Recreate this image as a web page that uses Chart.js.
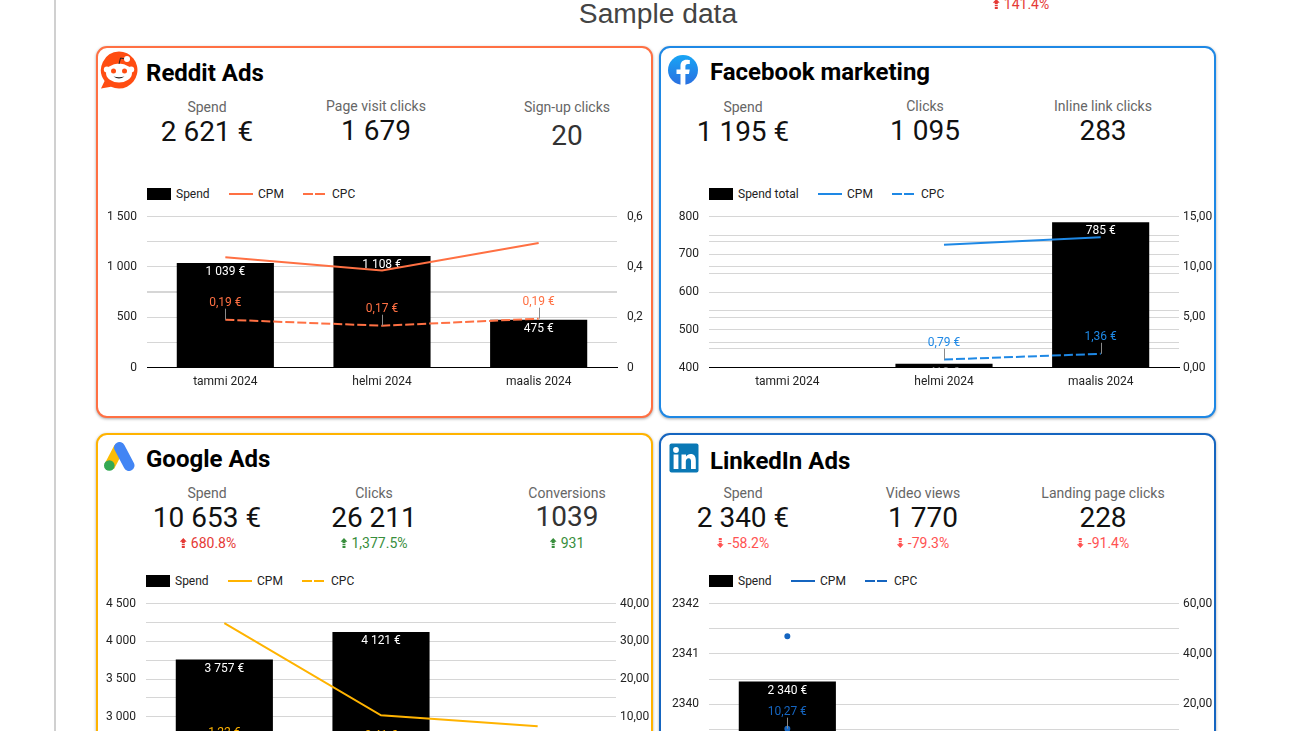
<!DOCTYPE html>
<html lang="fi">
<head>
<meta charset="utf-8">
<title>Sample data</title>
<script src="https://cdn.jsdelivr.net/npm/chart.js@4/dist/chart.umd.min.js"></script>
<style>
html,body{margin:0;padding:0;width:1300px;height:731px;overflow:hidden;background:#fff;font-family:Roboto,sans-serif;}
#stage{position:relative;width:1300px;height:731px;overflow:hidden;}
.abs{position:absolute;}
.rail{left:54px;top:0;width:2px;height:731px;background:#d0d0d0;}
.main-title{left:458px;width:400px;top:-3px;text-align:center;font:28.2px/32px "Liberation Sans",Arial,sans-serif;color:#444;}
.frame{box-sizing:border-box;border:2px solid;border-radius:11px;background:#fff;box-shadow:0 1px 3px rgba(0,0,0,.35);}
.ctitle{font:700 24px/28px Roboto,sans-serif;color:#000;white-space:nowrap;}
.kl,.kv,.kd{transform:translate(-50%,-50%);white-space:nowrap;text-align:center;}
.kl{font:14px/16px Roboto,sans-serif;color:#666;}
.kv{font:28px/32px Roboto,sans-serif;color:#111;}
.kd{font:14px/16px Roboto,sans-serif;display:flex;align-items:center;gap:4px;}
.kd svg{display:block;}
.lg{font:12px/14px Roboto,sans-serif;color:#222;white-space:nowrap;transform:translateY(-50%);}
.sw{background:#000;width:24px;height:12px;}
.ln{height:2px;}
canvas{position:absolute;display:block;}
</style>
</head>
<body>
<div id="stage">
  <div class="abs rail"></div>
  <div class="abs main-title">Sample data</div>
  <div class="abs kd" style="left:1021px;top:4px;color:#e53935;transform:translate(-50%,-50%)" data-arrow="up">141.4%</div>

  <div class="abs frame" style="left:96px;top:46px;width:557px;height:372px;border-color:#ff7043"></div>
  <div class="abs frame" style="left:659px;top:46px;width:557px;height:372px;border-color:#1e88e5"></div>
  <div class="abs frame" style="left:96px;top:433px;width:557px;height:372px;border-color:#ffb300"></div>
  <div class="abs frame" style="left:659px;top:433px;width:557px;height:372px;border-color:#1565c0"></div>

  <svg class="abs" style="left:100px;top:51px" width="38" height="38" viewBox="0 0 38 38">
    <path d="M19 0.5a18.5 18.5 0 1 1 -8 35.2L1 37.5 l3.6-7.5A18.5 18.5 0 0 1 19 .5z" fill="#ff4d12"/>
    <ellipse cx="19" cy="22" rx="13" ry="9.5" fill="#fff"/>
    <circle cx="6.8" cy="18.5" r="3" fill="#fff"/><circle cx="31.2" cy="18.5" r="3" fill="#fff"/>
    <circle cx="13.5" cy="20" r="2.5" fill="#ff4d12"/><circle cx="24.5" cy="20" r="2.5" fill="#ff4d12"/>
    <path d="M13.5 25.5q5.500 4 11 0q-5.500 1.500-11 0z" fill="#222"/>
    <path d="M19 13l1.500-6 5 1" stroke="#222" stroke-width="1" fill="none"/>
    <circle cx="27" cy="8" r="3" fill="#fff"/>
  </svg>
  <svg class="abs" style="left:668px;top:55px" width="30" height="30" viewBox="0 0 30 30">
    <defs><linearGradient id="fb" x1="0" y1="0" x2="0" y2="1"><stop offset="0" stop-color="#18a5f5"/><stop offset="1" stop-color="#2a6fe0"/></linearGradient></defs>
    <circle cx="15" cy="15" r="15" fill="url(#fb)"/>
    <path d="M12.500 30V19H8.500v-4.500h4V11c0-4 2.400-6.200 6-6.200 1.700 0 3.300.3 3.300.3v3.900h-1.900c-1.900 0-2.500 1.200-2.500 2.400v3.100h4.300l-.7 4.500h-3.600v11z" fill="#fff"/>
  </svg>
  <svg class="abs" style="left:104px;top:442px" width="31" height="29" viewBox="0 0 31 29">
    <path d="M10.500 3L20 8 10 27 .5 22z" fill="#fbbc04"/>
    <line x1="15.500" y1="5.500" x2="25" y2="23.500" stroke="#4285f4" stroke-width="11" stroke-linecap="round"/>
    <circle cx="5.300" cy="23.500" r="5.300" fill="#34a853"/>
  </svg>
  <svg class="abs" style="left:669px;top:443px" width="30" height="30" viewBox="0 0 30 30">
    <rect x="0.500" y="0.500" width="29" height="29" rx="2" fill="#0a78b5"/>
    <circle cx="7" cy="7" r="2.900" fill="#fff"/>
    <rect x="4.600" y="11.500" width="4.800" height="14.500" fill="#fff"/>
    <path d="M12.500 11.500h4.500v2c1-1.500 2.700-2.400 4.500-2.400 4 0 5.300 2.600 5.300 6.400V26h-4.800v-7.500c0-2-.5-3.300-2.300-3.300s-2.900 1.300-2.900 3.300V26h-4.300z" fill="#fff"/>
  </svg>

  <div class="abs ctitle" style="left:146px;top:59px">Reddit Ads</div>
  <div class="abs ctitle" style="left:710px;top:58px">Facebook marketing</div>
  <div class="abs ctitle" style="left:146px;top:445px">Google Ads</div>
  <div class="abs ctitle" style="left:710px;top:447px">LinkedIn Ads</div>

  <!-- KPI tiles -->
  <div class="abs kl" style="left:207px;top:107px">Spend</div><div class="abs kv" style="left:207px;top:132px">2 621 €</div>
  <div class="abs kl" style="left:376px;top:106px">Page visit clicks</div><div class="abs kv" style="left:376px;top:131px">1 679</div>
  <div class="abs kl" style="left:567px;top:107px">Sign-up clicks</div><div class="abs kv" style="left:567px;top:136px;color:#333">20</div>

  <div class="abs kl" style="left:743px;top:107px">Spend</div><div class="abs kv" style="left:743px;top:132px">1 195 €</div>
  <div class="abs kl" style="left:925px;top:106px">Clicks</div><div class="abs kv" style="left:925px;top:131px">1 095</div>
  <div class="abs kl" style="left:1103px;top:106px">Inline link clicks</div><div class="abs kv" style="left:1103px;top:131px">283</div>

  <div class="abs kl" style="left:207px;top:493px">Spend</div><div class="abs kv" style="left:207px;top:518px">10 653 €</div>
  <div class="abs kd" style="left:208px;top:543px;color:#e53935" data-arrow="up">680.8%</div>
  <div class="abs kl" style="left:374px;top:493px">Clicks</div><div class="abs kv" style="left:374px;top:518px">26 211</div>
  <div class="abs kd" style="left:374px;top:543px;color:#388e3c" data-arrow="up">1,377.5%</div>
  <div class="abs kl" style="left:567px;top:493px">Conversions</div><div class="abs kv" style="left:567px;top:517px;color:#333">1039</div>
  <div class="abs kd" style="left:567px;top:543px;color:#388e3c" data-arrow="up">931</div>

  <div class="abs kl" style="left:743px;top:493px">Spend</div><div class="abs kv" style="left:743px;top:518px">2 340 €</div>
  <div class="abs kd" style="left:743px;top:543px;color:#ff5252" data-arrow="down">-58.2%</div>
  <div class="abs kl" style="left:923px;top:493px">Video views</div><div class="abs kv" style="left:923px;top:518px">1 770</div>
  <div class="abs kd" style="left:923px;top:543px;color:#ff5252" data-arrow="down">-79.3%</div>
  <div class="abs kl" style="left:1103px;top:493px">Landing page clicks</div><div class="abs kv" style="left:1103px;top:518px">228</div>
  <div class="abs kd" style="left:1103px;top:543px;color:#ff5252" data-arrow="down">-91.4%</div>

  <!-- Legends -->
  <div id="legends"></div>

  <canvas id="cReddit"></canvas>
  <canvas id="cFacebook"></canvas>
  <canvas id="cGoogle"></canvas>
  <canvas id="cLinkedIn"></canvas>
</div>

<script>
// ---- data ----
const months = ['tammi 2024', 'helmi 2024', 'maalis 2024'];

const redditSpend = [1039, 1108, 475];
const redditCpm   = [0.438, 0.385, 0.495];
const redditCpc   = [0.19, 0.166, 0.194];

const facebookSpend = [null, 410, 785];
const facebookCpm   = [null, 12.2, 12.95];
const facebookCpc   = [null, 0.79, 1.36];

const googleSpend = [3757, 4121, 2775];
const googleCpm   = [34.8, 10.4, 7.5];
const googleCpc   = [1.22, 0.41, 0.05];

const linkedinSpend = [2340.45, null, null];
const linkedinCpm   = [47, null, null];
const linkedinCpc   = [10.27, null, null];

const redditLeftTicks    = {min: 0, max: 1500, step: 250, every: 500};
const redditRightTicks   = {min: 0, max: 0.6, step: 0.1, every: 0.2, digits: 1, zero: '0', pad: 10};
const facebookLeftTicks  = {min: 400, max: 800, step: 50, every: 100};
const facebookRightTicks = {min: 0, max: 15, step: 2.5, every: 5, digits: 2, pad: 4};
const googleLeftTicks    = {min: 2500, max: 4500, step: 250, every: 500};
const googleRightTicks   = {min: 0, max: 40, step: 5, every: 10, digits: 2, pad: 4};
const linkedinLeftTicks  = {min: 2339, max: 2342, step: 0.5, every: 1, plain: true};
const linkedinRightTicks = {min: 0, max: 60, step: 10, every: 20, digits: 2, pad: 4};

const ORANGE = '#ff7043', BLUE = '#1e88e5', AMBER = '#ffb300', NAVY = '#1565c0';

// ---- helpers ----
const group = n => String(Math.round(n)).replace(/\B(?=(\d{3})+$)/g, ' ');
const euro0 = n => group(n) + ' €';
const euro2 = n => n.toFixed(2).replace('.', ',') + ' €';

function tickFormatter(t) {
  return function (v) {
    const aligned = Math.abs(v / t.every - Math.round(v / t.every)) < 1e-6;
    if (!aligned) return '';
    if (t.digits) {
      if (Math.abs(v) < 1e-9 && t.zero) return t.zero;
      return v.toFixed(t.digits).replace('.', ',');
    }
    return t.plain ? String(Math.round(v)) : group(v);
  };
}

const labelsPlugin = {
  id: 'valueLabels',
  afterDatasetDraw(chart, args) {
    if (chart.data.datasets[args.index].type !== 'bar') return;
    const ctx = chart.ctx, area = chart.chartArea, ds = chart.data.datasets[args.index];
    ctx.save();
    ctx.beginPath();
    ctx.rect(area.left, area.top, area.right - area.left, area.bottom - area.top);
    ctx.clip();
    ctx.font = '12px Roboto, sans-serif';
    ctx.textAlign = 'center';
    ctx.textBaseline = 'middle';
    ctx.fillStyle = '#fff';
    args.meta.data.forEach((el, i) => {
      if (ds.data[i] == null) return;
      ctx.fillText(euro0(ds.data[i]), el.x, el.y + 9);
    });
    ctx.restore();
  },
  afterDatasetsDraw(chart) {
    const idx = chart.data.datasets.findIndex(d => d.label === 'CPC');
    const meta = chart.getDatasetMeta(idx), ds = chart.data.datasets[idx];
    const ctx = chart.ctx;
    ctx.save();
    ctx.font = '12px Roboto, sans-serif';
    ctx.textAlign = 'center';
    ctx.textBaseline = 'middle';
    meta.data.forEach((pt, i) => {
      if (ds.data[i] == null) return;
      ctx.strokeStyle = '#8a8a8a';
      ctx.lineWidth = 1;
      ctx.beginPath();
      ctx.moveTo(Math.round(pt.x) + .5, pt.y - 11);
      ctx.lineTo(Math.round(pt.x) + .5, pt.y);
      ctx.stroke();
      ctx.fillStyle = ds.borderColor;
      ctx.fillText(euro2(ds.data[i]), pt.x, pt.y - 17);
    });
    ctx.restore();
  }
};

function axis(t, position) {
  return {
    position, min: t.min, max: t.max,
    afterFit: s => { s.width = 45; s.paddingTop = 0; s.paddingBottom = 0; },
    afterBuildTicks: s => {
      const out = [];
      const n = Math.round((t.max - t.min) / t.step);
      for (let i = 0; i <= n; i++) out.push({value: t.min + i * t.step});
      s.ticks = out;
    },
    border: {display: false},
    grid: {color: '#d6d6d6', lineWidth: 1, drawTicks: false, drawOnChartArea: true},
    ticks: {
      autoSkip: false, padding: t.pad || 10, maxRotation: 0,
      color: '#222', font: {family: 'Roboto', size: 12},
      callback: tickFormatter(t)
    }
  };
}

function makeChart(id, plotLeft, plotTop, color, spend, cpm, cpc, lt, rt, spendLabel, dot) {
  const cv = document.getElementById(id);
  cv.width = 560; cv.height = 191;
  cv.style.width = '560px'; cv.style.height = '191px';
  cv.style.left = (plotLeft - 45) + 'px';
  cv.style.top = (plotTop - 10) + 'px';
  const r = dot ? 2 : 0;
  return new Chart(cv, {
    data: {
      labels: months,
      datasets: [
        {type: 'bar', label: spendLabel, data: spend, backgroundColor: '#000',
         categoryPercentage: 1, barPercentage: 0.62, yAxisID: 'y', order: 3},
        {type: 'line', label: 'CPM', data: cpm, borderColor: color, backgroundColor: color,
         borderWidth: 2, pointRadius: r, pointHoverRadius: r, tension: 0, yAxisID: 'y1', order: 2},
        {type: 'line', label: 'CPC', data: cpc, borderColor: color, backgroundColor: color,
         borderWidth: 2, borderDash: [9, 3], pointRadius: r, pointHoverRadius: r, tension: 0, yAxisID: 'y1', order: 1}
      ]
    },
    options: {
      responsive: false, animation: false,
      layout: {padding: {top: 10.5, left: 0, right: 0, bottom: 0}},
      plugins: {legend: {display: false}, tooltip: {enabled: false}, title: {display: false}},
      scales: {
        x: {
          offset: true,
          afterFit: s => { s.height = 29.5; s.paddingLeft = 0; s.paddingRight = 0; },
          border: {display: true, color: '#000', width: 1},
          grid: {display: false, drawTicks: false},
          ticks: {padding: 7.5, color: '#222', maxRotation: 0, font: {family: 'Roboto', size: 12}}
        },
        y: axis(lt, 'left'),
        y1: axis(rt, 'right')
      }
    },
    plugins: [labelsPlugin]
  });
}

function legend(y, swX, spendText, textX, lineX, lineTextX, dashX, dashTextX, color) {
  const host = document.getElementById('legends');
  const add = (cls, left, top, extra, txt) => {
    const d = document.createElement('div');
    d.className = 'abs ' + cls;
    d.style.cssText = `left:${left}px;top:${top}px;` + (extra || '');
    if (txt) d.textContent = txt;
    host.appendChild(d);
  };
  add('sw', swX, y - 6);
  add('lg', textX, y, '', spendText);
  add('ln', lineX, y - 1, `width:24px;background:${color}`);
  add('lg', lineTextX, y, '', 'CPM');
  add('ln', dashX, y - 1, `width:10px;background:${color}`);
  add('ln', dashX + 12, y - 1, `width:10px;background:${color}`);
  add('lg', dashTextX, y, '', 'CPC');
}

document.querySelectorAll('[data-arrow]').forEach(el => {
  const up = el.dataset.arrow === 'up';
  const t = el.textContent;
  el.innerHTML = '<svg width="7" height="10" viewBox="0 0 7 10"><path fill="currentColor" d="' +
    (up ? 'M3.500 0L7 3.800H5v1.200H2V3.800H0zM2 5.800h3v1.200H2zM2 7.800h3V10H2z'
        : 'M2 0h3v2.200H2zM2 3h3v1.200H2zM2 5h3v1.200h2L3.500 10 0 6.200h2z') +
    '"></path></svg><span></span>';
  el.querySelector('span').textContent = t;
});

legend(194, 147, 'Spend', 176, 229, 258, 303, 332, ORANGE);
legend(194, 709, 'Spend total', 738, 818, 847, 892, 921, BLUE);
legend(581, 146, 'Spend', 175, 228, 257, 302, 331, AMBER);
legend(581, 709, 'Spend', 738, 791, 820, 865, 894, NAVY);

function drawAll() {
  makeChart('cReddit', 147, 216, ORANGE, redditSpend, redditCpm, redditCpc, redditLeftTicks, redditRightTicks, 'Spend', false);
  makeChart('cFacebook', 709, 216, BLUE, facebookSpend, facebookCpm, facebookCpc, facebookLeftTicks, facebookRightTicks, 'Spend total', false);
  makeChart('cGoogle', 146, 603, AMBER, googleSpend, googleCpm, googleCpc, googleLeftTicks, googleRightTicks, 'Spend', false);
  makeChart('cLinkedIn', 709, 603, NAVY, linkedinSpend, linkedinCpm, linkedinCpc, linkedinLeftTicks, linkedinRightTicks, 'Spend', true);
}
if (document.fonts && document.fonts.load) {
  Promise.all(['12px Roboto', '700 24px Roboto', '14px Roboto'].map(f => document.fonts.load(f))).then(drawAll, drawAll);
} else { drawAll(); }
</script>
</body>
</html>
